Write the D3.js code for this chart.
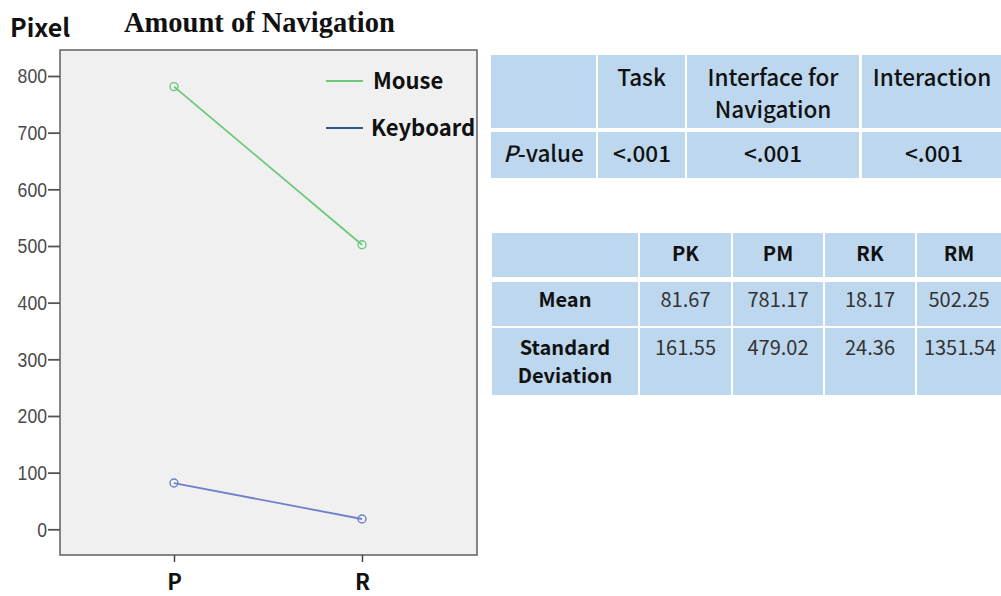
<!DOCTYPE html>
<html>
<head>
<meta charset="utf-8">
<script src="https://cdn.jsdelivr.net/npm/d3@7"></script>
<style>
  html, body { margin: 0; padding: 0; background: #fff; }
  svg { display: block; }
</style>
</head>
<body>
<svg id="chart" width="1001" height="596"></svg>
<script>
// Group means for the line chart
const groups = ["P", "R"];
const mouseMeans = [781.17, 502.25];
const keyboardMeans = [81.67, 18.17];
const yTicks = [0, 100, 200, 300, 400, 500, 600, 700, 800];
const seriesNames = ["Mouse", "Keyboard"];

// ANOVA p-value table
const pHeaders = ["", "Task", "Interface for|Navigation", "Interaction"];
const pValues = ["<.001", "<.001", "<.001"];

// Descriptive statistics table
const statCols = ["PK", "PM", "RK", "RM"];
const meanVals = ["81.67", "781.17", "18.17", "502.25"];
const sdVals = ["161.55", "479.02", "24.36", "1351.54"];

const svg = d3.select("#chart");
const tableFont = "'Noto Sans CJK KR', 'Noto Sans', sans-serif";

// ---------- line chart ----------
const frame = { left: 60, top: 50, right: 477, bottom: 555 };
const x = d3.scalePoint().domain(groups).range([174, 362]);
const y = d3.scaleLinear().domain([0, 800]).range([529.3, 76]);

svg.append("rect")
  .attr("x", frame.left).attr("y", frame.top)
  .attr("width", frame.right - frame.left).attr("height", frame.bottom - frame.top)
  .attr("fill", "#f0f0f0").attr("stroke", "#6a6a6a").attr("stroke-width", 1.6);

// condensed numeric tick labels
const tickScaleX = 0.84;
const yAxis = svg.append("g")
  .attr("transform", `translate(${frame.left},0)`)
  .call(d3.axisLeft(y).tickValues(yTicks).tickSize(12).tickPadding(1));
yAxis.select(".domain").remove();
yAxis.selectAll(".tick line").attr("stroke", "#555").attr("stroke-width", 1.8);
yAxis.selectAll(".tick text")
  .style("font-family", "'Liberation Sans', Arial, sans-serif")
  .style("font-size", "21px").attr("fill", "#4a4a4a")
  .attr("transform", `scale(${tickScaleX},1)`)
  .attr("x", -13 / tickScaleX);

const xAxis = svg.append("g")
  .attr("transform", `translate(0,${frame.bottom})`)
  .call(d3.axisBottom(x).tickSize(7).tickPadding(12));
xAxis.select(".domain").remove();
xAxis.selectAll(".tick line").attr("stroke", "#444").attr("stroke-width", 1.5);
xAxis.selectAll(".tick text")
  .style("font-family", tableFont).style("font-weight", 700)
  .style("font-size", "22px").attr("fill", "#111");

const series = [
  { name: seriesNames[0], values: mouseMeans, color: "#6cc97a", legend: "#6cc97a" },
  { name: seriesNames[1], values: keyboardMeans, color: "#6f80cc", legend: "#2f5a8e" }
];

const line = d3.line().x((d, i) => x(groups[i])).y(d => y(d));
series.forEach(s => {
  svg.append("path").datum(s.values)
    .attr("d", line).attr("fill", "none")
    .attr("stroke", s.color).attr("stroke-width", 1.8);
  svg.selectAll(null).data(s.values).enter().append("circle")
    .attr("cx", (d, i) => x(groups[i])).attr("cy", d => y(d)).attr("r", 4)
    .attr("fill", "none").attr("stroke", s.color).attr("stroke-width", 1.4);
});

// legend
const legend = svg.append("g");
series.forEach((s, i) => {
  const ly = 81 + i * 47;
  legend.append("line")
    .attr("x1", 326).attr("x2", 363).attr("y1", ly).attr("y2", ly)
    .attr("stroke", s.legend).attr("stroke-width", 2);
  legend.append("text")
    .attr("x", i === 0 ? 373 : 371).attr("y", ly).attr("dy", "0.35em")
    .attr("font-family", tableFont).attr("font-weight", 600)
    .attr("font-size", 22).attr("fill", "#111")
    .text(s.name);
});

// titles
svg.append("text")
  .attr("x", 10).attr("y", 37)
  .attr("font-family", tableFont).attr("font-weight", 700)
  .attr("font-size", 25).attr("fill", "#111")
  .text("Pixel");
svg.append("text")
  .attr("x", 124).attr("y", 32)
  .attr("font-family", "'Liberation Serif', 'Times New Roman', serif").attr("font-weight", 700)
  .attr("font-size", 28.5).attr("fill", "#111")
  .text("Amount of Navigation");

// ---------- tables ----------
const cellFill = "#bdd7ee";

function drawCell(x0, x1, y0, y1) {
  svg.append("rect")
    .attr("x", x0).attr("y", y0).attr("width", x1 - x0).attr("height", y1 - y0)
    .attr("fill", cellFill);
}

function drawText(str, cx, cy, opts) {
  const lines = str.split("|");
  const lh = opts.lineHeight || 30;
  const t = svg.append("text")
    .attr("text-anchor", "middle")
    .attr("font-family", tableFont)
    .attr("font-size", opts.size)
    .attr("font-weight", opts.weight || 400)
    .attr("fill", opts.color || "#111");
  lines.forEach((ln, i) => {
    t.append("tspan").attr("x", cx)
      .attr("y", cy + (i - (lines.length - 1) / 2) * lh)
      .attr("dy", "0.36em").text(ln);
  });
  return t;
}

// p-value table
const pColX = [[491, 596], [598, 685], [687, 859], [862, 1001]];
const pRowY = [[55, 128], [132, 178]];
pColX.forEach(c => pRowY.forEach(r => drawCell(c[0], c[1], r[0], r[1])));
pHeaders.forEach((h, i) => {
  if (!h) return;
  const cx = i === 3 ? 932 : (pColX[i][0] + pColX[i][1]) / 2;
  const cy = i === 2 ? 94 : 78;
  drawText(h, cx, cy, { size: 22.5, weight: 500, lineHeight: 32 });
});
// "P-value" with italic P
const pv = svg.append("text")
  .attr("x", (pColX[0][0] + pColX[0][1]) / 2).attr("y", 154).attr("dy", "0.36em")
  .attr("text-anchor", "middle").attr("font-family", tableFont)
  .attr("font-size", 22.5).attr("font-weight", 500).attr("fill", "#111");
pv.append("tspan").attr("font-style", "italic").text("P");
pv.append("tspan").text("-value");
pValues.forEach((v, i) => {
  const c = pColX[i + 1];
  const cx = i === 0 ? 642 : (i === 2 ? 934 : (c[0] + c[1]) / 2);
  drawText(v, cx, 154, { size: 22.5, weight: 500 });
});

// statistics table
const sColX = [[492, 638], [640, 731], [733, 823], [825, 915], [917, 1001]];
const sRowY = [[233, 277], [282, 326], [328, 395]];
sColX.forEach(c => sRowY.forEach(r => drawCell(c[0], c[1], r[0], r[1])));
statCols.forEach((h, i) => {
  const c = sColX[i + 1];
  drawText(h, (c[0] + c[1]) / 2, 254, { size: 20, weight: 700 });
});
drawText("Mean", (sColX[0][0] + sColX[0][1]) / 2, 300, { size: 20, weight: 700 });
drawText("Standard|Deviation", (sColX[0][0] + sColX[0][1]) / 2, 362, { size: 20, weight: 700, lineHeight: 28 });
meanVals.forEach((v, i) => {
  const c = sColX[i + 1];
  drawText(v, (c[0] + c[1]) / 2, 300, { size: 20, color: "#333" });
});
sdVals.forEach((v, i) => {
  const c = sColX[i + 1];
  const cx = i === 3 ? 960 : (c[0] + c[1]) / 2;
  drawText(v, cx, 348, { size: 20, color: "#333" });
});
</script>
</body>
</html>
